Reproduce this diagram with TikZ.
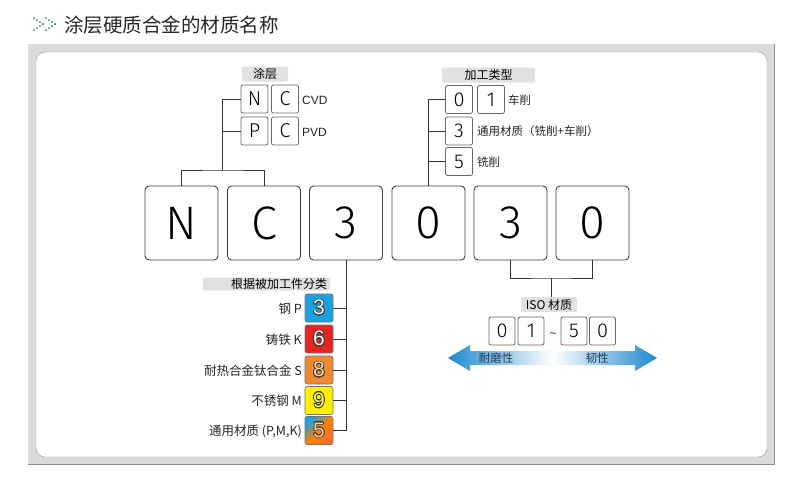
\documentclass[tikz,border=0pt]{standalone}
\usepackage{fontspec}
\setmainfont{Liberation Sans}
\newfontfamily\cjk{Noto Sans CJK SC}
\newfontfamily\duenn{Fira Sans Light}
\usepackage{contour}
\contourlength{0.7pt}
\definecolor{pfeilblau}{HTML}{1E88CF}
\definecolor{textblau}{HTML}{1E3A5A}
\definecolor{stahlblau}{HTML}{1BA1E2}
\definecolor{gussrot}{HTML}{E32421}
\definecolor{hitzeorange}{HTML}{F08A30}
\definecolor{rostgelb}{HTML}{FFF000}
\begin{document}
\begin{tikzpicture}[x=1pt,y=-1pt,>=latex,
  linie/.style={draw=black!80,line width=0.8pt},
  grossbox/.style={draw=black!75,line width=0.9pt,rounded corners=4pt,fill=white,minimum width=73pt,minimum height=74pt,inner sep=0pt,font=\duenn\fontsize{47}{47}\selectfont},
  kleinbox/.style={draw=black!60,line width=0.8pt,rounded corners=2pt,fill=white,minimum width=27pt,minimum height=28pt,inner sep=0pt,font=\duenn\fontsize{20}{20}\selectfont},
  farbbox/.style={draw=black!55,line width=0.6pt,rounded corners=2pt,minimum width=28pt,minimum height=28pt,inner sep=0pt,font=\fontsize{21}{21}\selectfont},
  balken/.style={fill=black!12,rounded corners=2pt,inner sep=0pt,minimum height=15pt,font=\cjk\fontsize{12}{12}\selectfont},
  txt/.style={font=\cjk\fontsize{11.5}{11.5}\selectfont,inner sep=0pt,text=black!85}
]
  \useasboundingbox (0,0) rectangle (785,488);

  % Rahmen
  \fill[black!14] (28,44) rectangle (774,464);
  \draw[black!45,line width=1pt] (28,464) -- (774,464) -- (774,44);
  \draw[black!40,fill=white,rounded corners=9pt] (36,52) rectangle (767,457);

  % Titel
  \foreach \cx in {34,46}
    \foreach \k in {0,...,3} {
      \fill[teal!60!gray] (\cx+3*\k,18+2*\k) circle (1pt);
      \fill[teal!60!gray] (\cx+3*\k,30-2*\k) circle (1pt);
    }
  \node[anchor=west,font=\cjk\fontsize{19.5}{19.5}\selectfont,text=black!85,inner sep=0pt] (titel) at (64,25) {涂层硬质合金的材质名称};

  % Knoten
  \node[grossbox] (coat1) at (181.5,223) {N};
  \node[grossbox] (coat2) at (264,223) {C};
  \node[grossbox] (work) at (346,223) {3};
  \node[grossbox] (proc) at (428.5,223) {0};
  \node[grossbox] (iso1) at (510.5,223) {3};
  \node[grossbox] (iso2) at (592.5,223) {0};

  % Beschichtung
  \node[balken,minimum width=46pt] (lblcoat) at (265,74) {涂层};
  \node[kleinbox] (cvdN) at (254.5,99) {N};
  \node[kleinbox] (cvdC) at (285,99) {C};
  \node[kleinbox] (pvdP) at (254.5,131) {P};
  \node[kleinbox] (pvdC) at (285,131) {C};
  \node[txt,anchor=west,font=\fontsize{12}{12}\selectfont] (cvd) at (302,100) {CVD};
  \node[txt,anchor=west,font=\fontsize{12}{12}\selectfont] (pvd) at (302,132) {PVD};

  % Bearbeitungsart
  \node[balken,minimum width=93pt] (lblproc) at (488.5,75) {加工类型};
  \node[kleinbox] (p0) at (459,99.5) {0};
  \node[kleinbox] (p1) at (491,99.5) {1};
  \node[kleinbox] (p3) at (459,131) {3};
  \node[kleinbox] (p5) at (459,161.5) {5};
  \node[txt,anchor=west] (turn) at (508,100) {车削};
  \node[txt,anchor=west] (allg) at (477,131) {通用材质（铣削+车削）};
  \node[txt,anchor=west] (mill) at (477,162) {铣削};

  % Werkstoffe
  \node[balken,minimum height=13pt,minimum width=127pt,text width=121pt,align=right] (lblwork) at (266.5,284) {根据被加工件分类};
  \node[farbbox,fill=stahlblau] (m3) at (319,308) {\contour{black!80}{\textcolor{white}{3}}};
  \node[farbbox,fill=gussrot] (m6) at (319,339) {\contour{black!80}{\textcolor{white}{6}}};
  \node[farbbox,fill=hitzeorange] (m8) at (319,370) {\contour{black!80}{\textcolor{orange!30!white}{8}}};
  \node[farbbox,fill=rostgelb] (m9) at (319,400.5) {\contour{black!80}{\textcolor{yellow!60!white}{9}}};
  \node[farbbox,top color=stahlblau,bottom color=hitzeorange!80!red,middle color=orange,shading angle=45] (m5) at (319,430.5) {\contour{black!80}{\textcolor{orange!40!white}{5}}};
  \node[txt,anchor=east,font=\cjk\fontsize{12.5}{12.5}\selectfont] (lp) at (302,309) {钢 P};
  \node[txt,anchor=east,font=\cjk\fontsize{12.5}{12.5}\selectfont] (lk) at (302,340) {铸铁 K};
  \node[txt,anchor=east,font=\cjk\fontsize{12.5}{12.5}\selectfont] (ls) at (302,371) {耐热合金钛合金 S};
  \node[txt,anchor=east,font=\cjk\fontsize{12.5}{12.5}\selectfont] (lm) at (302,401) {不锈钢 M};
  \node[txt,anchor=east,font=\cjk\fontsize{12.5}{12.5}\selectfont] (lpmk) at (302,431) {通用材质 (P,M,K)};

  % ISO
  \node[balken,minimum width=56pt] (lbliso) at (549,304.5) {ISO 材质};
  \node[kleinbox,minimum width=26pt] (i0) at (502,331) {0};
  \node[kleinbox,minimum width=26pt] (i1) at (531,331) {1};
  \node[txt,font=\fontsize{12}{12}\selectfont] (tilde) at (553,335) {\textasciitilde};
  \node[kleinbox,minimum width=26pt] (i5) at (574,331) {5};
  \node[kleinbox,minimum width=26pt] (i0b) at (602.5,331) {0};
  \shade[left color=pfeilblau,right color=pfeilblau,middle color=white]
    (448,358) -- (470,345) -- (470,351) -- (635,351) -- (635,345) -- (657,358)
    -- (635,371) -- (635,365) -- (470,365) -- (470,371) -- cycle;
  \node[txt,text=textblau] (hard) at (496,358) {耐磨性};
  \node[txt,text=textblau] (tough) at (597,358) {韧性};

  % Linien
  \coordinate (cb) at (222.75,170);
  \draw[linie] (coat1.north) |- (cb) -| (coat2.north);
  \draw[linie] (cb) |- (cvdN.west);
  \draw[linie] (cb |- pvdP.west) -- (pvdP.west);
  \draw[linie] (proc.north) |- (p0.west);
  \draw[linie] (proc.north |- p3.west) -- (p3.west);
  \draw[linie] (proc.north |- p5.west) -- (p5.west);
  \draw[linie] (work.south) |- (m5.east);
  \draw[linie] (work.south |- m3.east) -- (m3.east);
  \draw[linie] (work.south |- m6.east) -- (m6.east);
  \draw[linie] (work.south |- m8.east) -- (m8.east);
  \draw[linie] (work.south |- m9.east) -- (m9.east);
  \coordinate (ib) at (551.5,278);
  \draw[linie] (iso1.south) |- (ib) -| (iso2.south);
  \draw[linie] (ib) -- (ib |- lbliso.north);
\end{tikzpicture}
\end{document}
